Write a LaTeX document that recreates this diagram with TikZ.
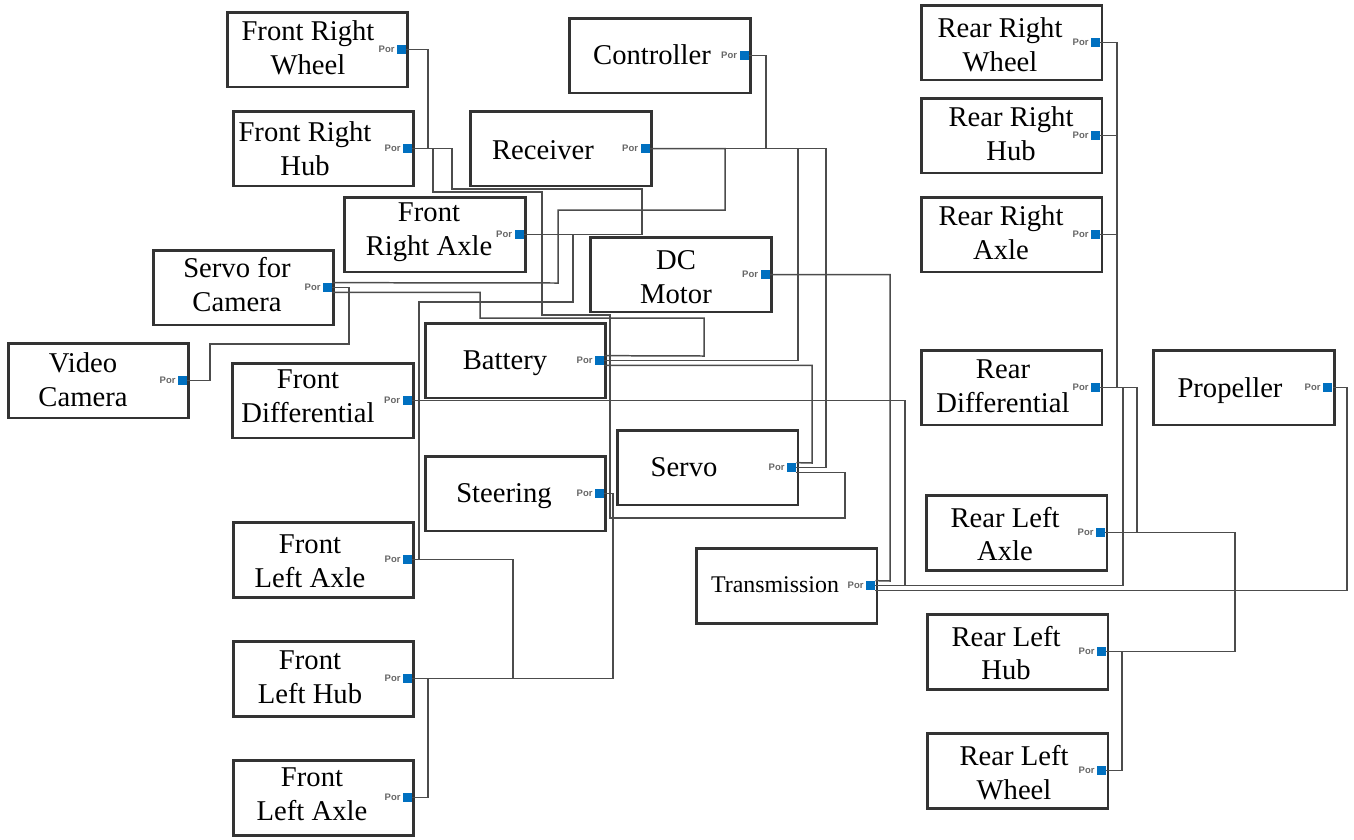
\documentclass[tikz,border=0pt]{standalone}
\usepackage{fontspec}
\setmainfont{Liberation Serif}
\newfontfamily\porfont{Liberation Sans}
\usetikzlibrary{positioning}
\definecolor{portblue}{RGB}{0,112,192}

\begin{document}
\begin{tikzpicture}[x=0.02cm, y=-0.02cm,
  blk/.style={draw=black!80, line width=1.7pt, minimum width=3.62cm, minimum height=1.5cm, inner sep=0},
  txt/.style={align=center, font=\fontsize{16.3}{19.3}\selectfont, inner sep=0},
  port/.style={fill=portblue, minimum size=0.18cm, inner sep=0},
  por/.style={font=\porfont\bfseries\fontsize{5.4}{6}\selectfont, text=black!60, inner sep=0.6pt},
  wire/.style={draw=black!70, line width=0.85pt}]
  \useasboundingbox (0,0) rectangle (1354,839);

  % blocks: name / box centre / text centre / text
  \foreach \nm/\bx/\by/\tx/\ty/\lbl in {
    frw/317.5/49.5/308/48/{Front Right\\Wheel},
    frh/323.5/148.5/305/149/{Front Right\\Hub},
    ctrl/660/55.5/652/55/{Controller},
    rec/561/148.5/543/150/{Receiver},
    fra/435/234.5/429/232/{Front\\Right Axle},
    sfc/243.5/287.5/237/285/{Servo for\\Camera},
    dcm/681/274.5/676/277/{DC\\Motor},
    vc/98.5/380.5/83/380/{Video\\Camera},
    fd/323/400.5/308/396/{Front\\Differential},
    bat/515.5/360.5/505/363/{Battery},
    servo/707.5/467.5/684/467/{Servo},
    steer/515.5/493.5/504/496/{Steering},
    flaA/323.5/559.5/310/561/{Front\\Left Axle},
    flh/323.5/678.5/310/677/{Front\\Left Hub},
    flaB/323.5/797.5/312/794/{Front\\Left Axle},
    trans/786.5/585.5/775/585/{\fontsize{13.6}{16}\selectfont Transmission},
    rrw/1011.5/42.5/1000/45/{Rear Right\\Wheel},
    rrh/1011.5/135.5/1011/134/{Rear Right\\Hub},
    rra/1011.5/234.5/1001/233/{Rear Right\\Axle},
    rd/1011.5/387.5/1003/386/{Rear\\Differential},
    prop/1243.5/387.5/1230/391/{Propeller},
    rla/1016.5/532.5/1005/534/{Rear Left\\Axle},
    rlh/1017.5/651.5/1006/653/{Rear Left\\Hub},
    rlw/1017.5/770.5/1014/773/{Rear Left\\Wheel}}
  {
    \node[blk] (\nm) at (\bx,\by) {};
    \node[txt] (\nm-t) at (\tx,\ty) {\lbl};
    \node[port, left=0.06cm of \nm.east] (\nm-p) {};
    \node[por, left=0.5pt of \nm-p] (\nm-l) {Por};
  }

  % front right side
  \draw[wire] (frw-p.east) -| (428,148.5) -- (frh-p.east);
  \draw[wire] (frh-p.east) -| (452,189) -| (642,234.5) -- (fra-p.east);
  \draw[wire] (frh-p.east) -| (433,192) -| (542,315) -| (610,493.5) -- (steer-p.east);
  \draw[wire] (fra-p.east) -| (573,302) -| (419,559.5) -- (flaA-p.east);

  % receiver and controller
  \draw[wire] (ctrl-p.east) -| (766,148.5) -- (rec-p.east);
  \draw[wire] (rec-p.east) -| (798,274.5) -- (dcm-p.east);
  \draw[wire] (rec-p.east) -| (826,467.5) -- (servo-p.east);
  \draw[wire] (rec-p.east) -| (725,210) -| (558,283) -- (sfc-p.north east);

  % camera, battery, motor
  \draw[wire] (sfc-p.east) -| (349,344) -| (210,380.5) -- (vc-p.east);
  \draw[wire] (sfc-p.south east) -| (480,318) -| (704,356) -- (bat-p.north east);
  \draw[wire] (dcm-p.east) -| (798,360.5) -- (bat-p.east);
  \draw[wire] (dcm-p.east) -| (890,581) -- (trans-p.north east);
  \draw[wire] (bat-p.south east) -| (812,463) -- (servo-p.north east);
  \draw[wire] (fd-p.east) -| (905,585.5) -- (trans-p.east);

  % steering and front left side
  \draw[wire] (servo-p.south east) -| (845,518) -| (610,493.5) -- (steer-p.east);
  \draw[wire] (steer-p.east) -| (613,678.5) -- (flh-p.east);
  \draw[wire] (flaA-p.east) -| (513,678.5) -- (flh-p.east);
  \draw[wire] (flh-p.east) -| (428,797.5) -- (flaB-p.east);

  % rear side
  \draw[wire] (trans-p.east) -| (1123,387.5) -- (rd-p.east);
  \draw[wire] (trans-p.south east) -| (1347,387.5) -- (prop-p.east);
  \draw[wire] (rd-p.east) -| (1137,532.5) -- (rla-p.east);
  \draw[wire] (rrw-p.east) -| (1117,135.5) -- (rrh-p.east);
  \draw[wire] (rrh-p.east) -| (1117,234.5) -- (rra-p.east);
  \draw[wire] (rra-p.east) -| (1117,387.5) -- (rd-p.east);
  \draw[wire] (rla-p.east) -| (1235,651.5) -- (rlh-p.east);
  \draw[wire] (rlh-p.east) -| (1122,770.5) -- (rlw-p.east);
\end{tikzpicture}
\end{document}
